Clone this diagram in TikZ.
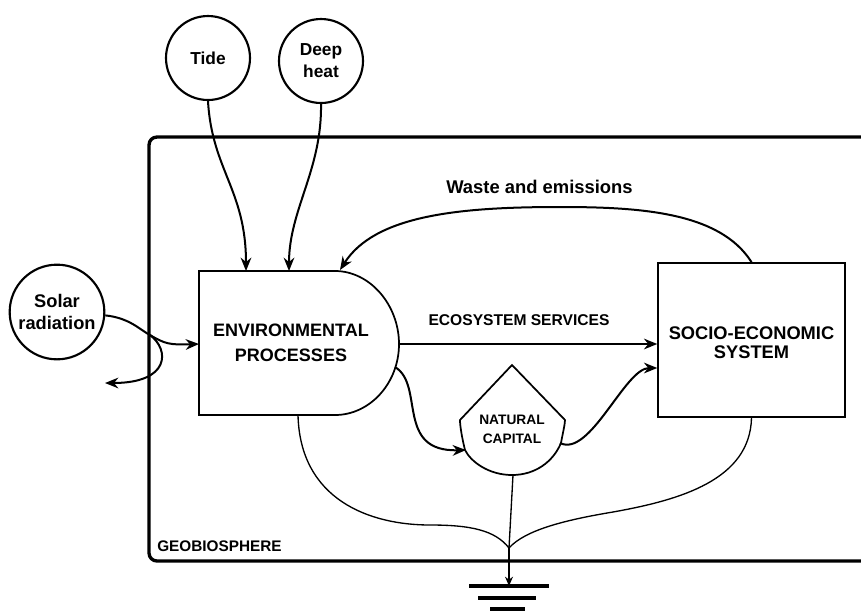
\documentclass[tikz,border=0pt]{standalone}
\usepackage{fontspec}
\setmainfont{Liberation Sans}
\usetikzlibrary{arrows.meta}
\tikzset{
srcnode/.style={draw,circle,line width=1.6pt,minimum size=63pt,inner sep=0pt,align=center,font=\bfseries\fontsize{13}{16.5}\selectfont},
boxnode/.style={draw,line width=1.3pt,inner sep=0pt,align=center,font=\bfseries\fontsize{13.7}{14.5}\selectfont},
flow/.style={line width=1.5pt,-{Stealth[length=10pt,width=8pt]}},
thinflow/.style={line width=1pt},
lbl/.style={inner sep=0pt,font=\bfseries\fontsize{13.8}{16}\selectfont}
}
\begin{document}
\begin{tikzpicture}[x=0.75pt,y=0.75pt,yscale=-1,xscale=1]
\useasboundingbox (0,0) rectangle (861,612);
%boundary
\draw [line width=2.5pt,rounded corners=6pt] (861,137) -- (149,137) -- (149,561) -- (861,561);
\node (geo) [lbl,anchor=west,font=\bfseries\fontsize{11.5}{13}\selectfont] at (157,546) {GEOBIOSPHERE};
%sources
\node (tide) [srcnode] at (208,58) {Tide};
\node (heat) [srcnode] at (321,61) {Deep\\heat};
\node (solar) [srcnode,minimum size=71pt,font=\bfseries\fontsize{13.7}{17}\selectfont] at (57,312) {Solar\\radiation};
%boxes
\draw [line width=1.3pt] (199,271) -- (335,271) .. controls (370,271) and (399,305) .. (399,344) .. controls (399,383) and (370,415) .. (335,415) -- (199,415) -- cycle;
\node (env) [lbl,align=center,font=\bfseries\fontsize{13.5}{18.5}\selectfont] at (291,343) {ENVIRONMENTAL\\PROCESSES};
\coordinate (envtop) at (246,271);
\coordinate (envtopb) at (289,271);
\coordinate (envcurve) at (340,270);
\coordinate (envleft) at (199,344);
\coordinate (envright) at (399,344);
\coordinate (envlow) at (395,367);
\coordinate (envbottom) at (298,415);
\node (socio) [boxnode,minimum width=140pt,minimum height=115.5pt] at (751.5,340) {\rule{0pt}{14pt}SOCIO-ECONOMIC\\SYSTEM};
%natural capital
\draw [line width=1.3pt] (512,365) -- (565,420) .. controls (565,424) and (563,432) .. (561,443) .. controls (553,462) and (535,475) .. (512,475) .. controls (489,475) and (471,462) .. (465,450) .. controls (462,438) and (460,426) .. (460,420) -- cycle;
\node (cap) [lbl,align=center,font=\bfseries\fontsize{10.3}{14}\selectfont] at (512,429) {NATURAL\\CAPITAL};
\coordinate (capleft) at (466,450);
\coordinate (capright) at (560,443);
\coordinate (capbottom) at (513,475);
%flows
\draw [flow] (tide.south) .. controls (212,170) and (246,190) .. (envtop);
\draw [flow] (heat.south) .. controls (322,170) and (289,210) .. (envtopb);
\coordinate (reflect) at (150,335);
\draw [flow] (solar.-4) .. controls (130,318) and (140,330) .. (reflect) .. controls (165,344) and (170,345) .. (envleft);
\draw [flow] (reflect) .. controls (170,350) and (170,383) .. (105,383);
\draw [flow] (socio.north) .. controls (720,212) and (640,207) .. (560,207) .. controls (460,207) and (375,215) .. (envcurve);
\draw [flow] (envright) -- (socio.west |- envright);
\draw [flow] (envlow) .. controls (425,385) and (395,452) .. (capleft);
\draw [flow] (capright) .. controls (590,458) and (625,368) .. (socio.west |- 0,368);
\node (waste) [lbl] at (539.5,187) {Waste and emissions};
\node (eco) [lbl,font=\bfseries\fontsize{11.7}{14}\selectfont] at (519,320) {ECOSYSTEM SERVICES};
%sink
\coordinate (merge) at (509,548);
\coordinate (sink) at (509,586);
\draw [thinflow] (envbottom) .. controls (300,500) and (370,525) .. (430,525) .. controls (470,525) and (495,530) .. (merge);
\draw [thinflow] (socio.south) .. controls (750,480) and (680,500) .. (613,512) .. controls (565,520) and (525,530) .. (merge);
\draw [thinflow] (capbottom) -- (merge);
\draw [thinflow,-{Stealth[length=7pt,width=6pt]}] (merge) -- (sink);
\draw [line width=3pt] (469,586) -- (549,586);
\draw [line width=3pt] (478,598) -- (536,598);
\draw [line width=3.5pt] (490,609) -- (525,609);
\end{tikzpicture}
\end{document}
